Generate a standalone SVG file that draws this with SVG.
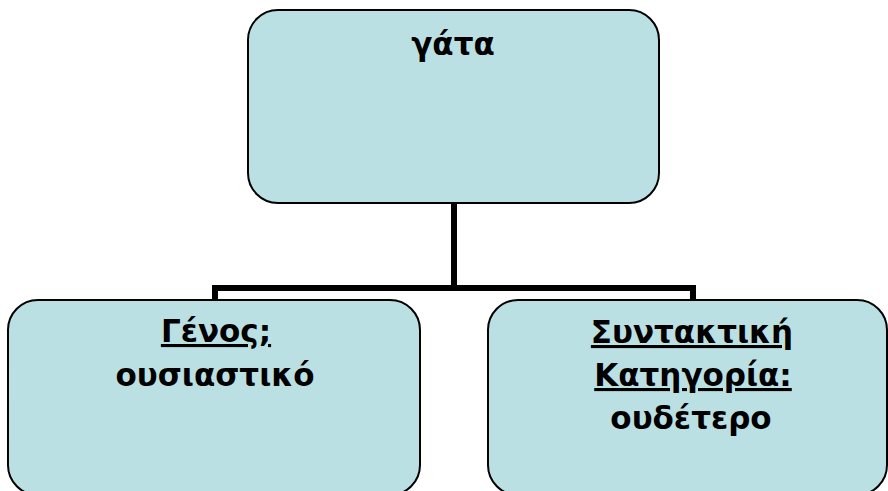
<svg xmlns="http://www.w3.org/2000/svg" width="888" height="491" viewBox="0 0 888 491">
  <style>
    .box { fill: #BBE0E3; stroke: #000; stroke-width: 2; }
    .lbl { font-family: "DejaVu Sans", Verdana, sans-serif; font-weight: bold; font-size: 31px; fill: #000; text-anchor: middle; }
    .ul { text-decoration: underline; }
    .wire { fill: none; stroke: #000; stroke-width: 6; stroke-linejoin: miter; stroke-linecap: butt; }
  </style>

  <!-- tree connectors -->
  <g id="connectors">
    <path class="wire" d="M454 203 V288" />
    <path class="wire" d="M215 300 V288 H693 V300" />
  </g>

  <g id="node-root">
    <rect class="box" x="248" y="10" width="411" height="193" rx="30" ry="30" />
    <text class="lbl" x="453" y="55">γάτα</text>
  </g>

  <g id="node-genos">
    <rect class="box" x="8" y="300" width="412" height="195" rx="30" ry="30" />
    <text class="lbl ul" x="216" y="342">Γένος;</text>
    <text class="lbl" x="215" y="386">ουσιαστικό</text>
  </g>

  <g id="node-syntaktiki">
    <rect class="box" x="488" y="300" width="399" height="195" rx="30" ry="30" />
    <text class="lbl ul" x="692" y="343">Συντακτική</text>
    <text class="lbl ul" x="693" y="386">Κατηγορία:</text>
    <text class="lbl" x="691" y="429">ουδέτερο</text>
  </g>
</svg>
